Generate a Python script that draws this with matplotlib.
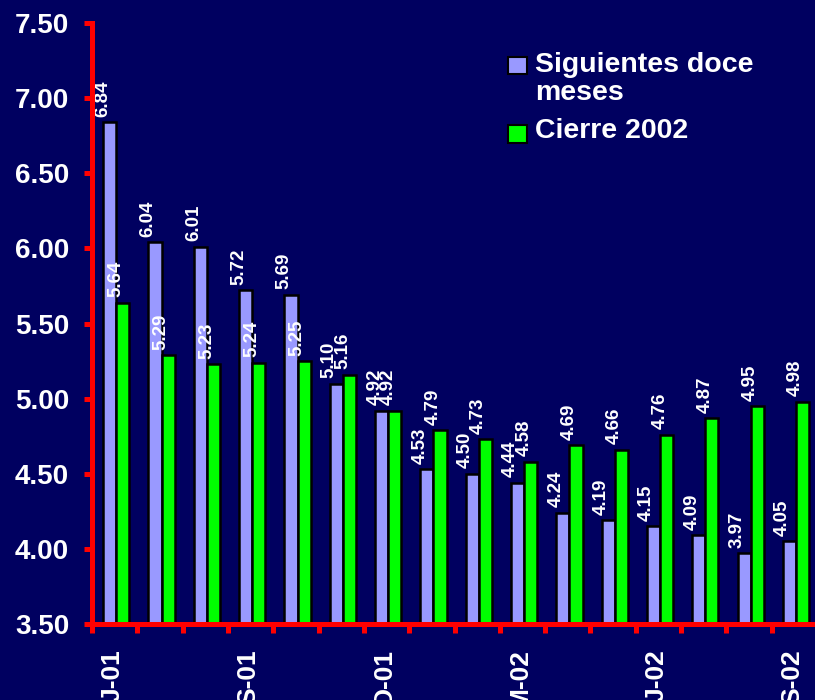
import numpy as np
import matplotlib
matplotlib.use('Agg')
import matplotlib.pyplot as plt
from matplotlib.patches import Rectangle

# Monthly survey: expected inflation
months = ['J-01', 'J-01', 'A-01', 'S-01', 'O-01', 'N-01', 'D-01', 'E-02',
          'F-02', 'M-02', 'A-02', 'M-02', 'J-02', 'J-02', 'A-02', 'S-02']
doce_meses = [6.84, 6.04, 6.01, 5.72, 5.69, 5.10, 4.92, 4.53,
              4.50, 4.44, 4.24, 4.19, 4.15, 4.09, 3.97, 4.05]
cierre_2002 = [5.64, 5.29, 5.23, 5.24, 5.25, 5.16, 4.92, 4.79,
               4.73, 4.58, 4.69, 4.66, 4.76, 4.87, 4.95, 4.98]
y_ticks = [3.5, 4.0, 4.5, 5.0, 5.5, 6.0, 6.5, 7.0, 7.5]
label_every = 3

BG = '#000060'
PURPLE = '#9999FF'
GREEN = '#00FF00'
RED = '#FF0000'

plt.rcParams['font.family'] = ['Liberation Sans', 'DejaVu Sans']
plt.rcParams['font.weight'] = 'bold'

fig = plt.figure(figsize=(8.15, 7.0), dpi=100, facecolor=BG)
ax = fig.add_axes([0.1129, 0.1086, 0.8896, 0.8584], facecolor=BG)

x = np.arange(len(months))
w = 0.29
ax.bar(x - 0.11, doce_meses, w, color=PURPLE, edgecolor='black', linewidth=1.8, zorder=2)
ax.bar(x + 0.18, cierre_2002, w, color=GREEN, edgecolor='black', linewidth=1.8, zorder=2)

# value labels above each bar
for xs, vals in [(x - 0.11, doce_meses), (x + 0.18, cierre_2002)]:
    for xi, v in zip(xs, vals):
        ax.annotate('%.2f' % v, (xi - 0.15, v), xytext=(0, 4), textcoords='offset points',
                    rotation=90, ha='center', va='bottom', color='white',
                    fontsize=13.5, fontweight='bold', zorder=3)

ax.set_ylim(3.5, 7.5)
ax.set_xlim(-0.5, len(months) - 0.5)
ax.set_yticks(y_ticks)
ax.set_yticklabels(['%.2f' % t for t in y_ticks])

# labels at every third month, tick marks at group boundaries
ax.set_xticks(x[::label_every] - 0.05)
ax.set_xticklabels(months[::label_every], rotation=90)
ax.set_xticks(np.arange(len(months) + 1) - 0.5, minor=True)

ax.tick_params(axis='y', colors=RED, labelcolor='white', labelsize=20,
               length=5.5, width=3.6, pad=11)
ax.tick_params(axis='x', which='major', length=0, labelcolor='white',
               labelsize=19, pad=18)
ax.tick_params(axis='x', which='minor', colors=RED, length=6.5, width=3.6)

for side in ['top', 'right']:
    ax.spines[side].set_visible(False)
for side in ['left', 'bottom']:
    ax.spines[side].set_color(RED)
    ax.spines[side].set_linewidth(3.6)
    ax.spines[side].set_zorder(4)

# legend, drawn by hand to keep the square beside the first line
W, H = 815.0, 700.0
fig.add_artist(Rectangle((508 / W, 1 - 74 / H), 19 / W, 17 / H, transform=fig.transFigure,
                         facecolor=PURPLE, edgecolor='black', linewidth=1.5))
fig.add_artist(Rectangle((508 / W, 1 - 143 / H), 19 / W, 18 / H, transform=fig.transFigure,
                         facecolor=GREEN, edgecolor='black', linewidth=1.5))
fig.text(535 / W, 1 - 100 / H, 'Siguientes doce\nmeses', color='white', fontsize=20.5,
         fontweight='bold', va='baseline', linespacing=1.1)
fig.text(535 / W, 1 - 138 / H, 'Cierre 2002', color='white', fontsize=20.5,
         fontweight='bold', va='baseline')

fig.savefig('out.png', dpi=100, facecolor=BG)
